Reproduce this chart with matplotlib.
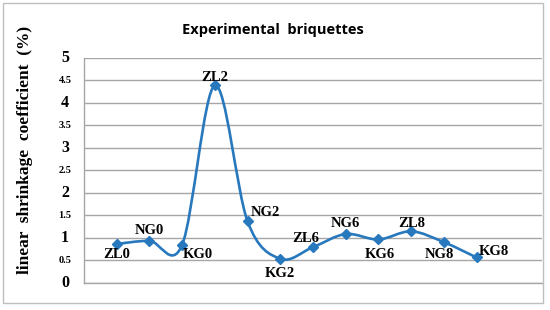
import matplotlib.pyplot as plt
import matplotlib.transforms as mtransforms
import numpy as np
from matplotlib.path import Path
from matplotlib.patches import PathPatch, Rectangle

# Data
samples = ['ZL0', 'NG0', 'KG0', 'ZL2', 'NG2', 'KG2', 'ZL6', 'NG6', 'KG6', 'ZL8', 'NG8', 'KG8']
shrinkage = [0.86, 0.93, 0.84, 4.38, 1.36, 0.53, 0.79, 1.08, 0.96, 1.14, 0.90, 0.56]
y_ticks = [0, 0.5, 1, 1.5, 2, 2.5, 3, 3.5, 4, 4.5, 5]
y_tick_labels = ['0', '0.5', '1', '1.5', '2', '2.5', '3', '3.5', '4', '4.5', '5']

# label offsets in pixels (dx, dy)
OFFSETS = [(0, -11), (0, 10), (16, -10), (0, 8), (18, 9), (0, -15),
           (-7, 9), (0, 11), (1, -15), (1, 8), (-4, -12), (17, 6)]

LINE_COLOR = '#2878BD'
GRID_COLOR = '#A6A6A6'
SERIF = 'Liberation Serif'

fig = plt.figure(figsize=(5.5, 3.1), dpi=100)
ax = fig.add_axes([84 / 550, 27.3 / 310, (542 - 84) / 550, (282.7 - 57.5) / 310])

x = np.arange(1, len(samples) + 1)
y = np.array(shrinkage)

# smoothed line like the spreadsheet's "smoothed line" option (cubic bezier through the points)
pts = np.column_stack([x, y])
verts = [tuple(pts[0])]
codes = [Path.MOVETO]
for i in range(len(pts) - 1):
    p0 = pts[i - 1] if i > 0 else pts[i]
    p1 = pts[i]
    p2 = pts[i + 1]
    p3 = pts[i + 2] if i + 2 < len(pts) else pts[i + 1]
    c1 = p1 + (p2 - p0) / 6
    c2 = p2 - (p3 - p1) / 6
    verts += [tuple(c1), tuple(c2), tuple(p2)]
    codes += [Path.CURVE4] * 3
ax.add_patch(PathPatch(Path(verts, codes), facecolor='none', edgecolor=LINE_COLOR,
                       linewidth=1.9, zorder=3))
ax.plot(x, y, linestyle='none', marker='D', markersize=5.5, color=LINE_COLOR, zorder=4)

for i, name in enumerate(samples):
    ax.annotate(name, (x[i], y[i]), xytext=OFFSETS[i], textcoords='offset pixels',
                ha='center', va='center', fontsize=10.5, fontweight='bold',
                family=SERIF, color='black', zorder=5)

ax.set_xlim(0, 14)
ax.set_ylim(0, 5)
ax.set_xticks([])
ax.set_yticks(y_ticks)
ax.set_yticklabels([])
ax.tick_params(axis='y', length=0)
ax.grid(axis='y', color=GRID_COLOR, linewidth=1)
ax.set_axisbelow(True)
for s in ['top', 'right']:
    ax.spines[s].set_visible(False)
for s in ['left', 'bottom']:
    ax.spines[s].set_color(GRID_COLOR)
    ax.spines[s].set_linewidth(1)

# tick labels: whole numbers big, halves small, centred 19 px left of the axis
tick_tr = mtransforms.offset_copy(ax.get_yaxis_transform(), fig=fig, x=-19, y=0, units='dots')
for v, lab in zip(y_ticks, y_tick_labels):
    big = float(v).is_integer()
    ax.text(0, v, lab, transform=tick_tr, ha='center', va='center',
            fontsize=11.5 if big else 7.5, fontweight='bold', family=SERIF)

fig.text(25 / 550, 1 - 150 / 310, 'linear  shrinkage  coefficient  (%)', rotation=90,
         ha='center', va='center', fontsize=12.5, fontweight='bold', family=SERIF)
fig.text(273 / 550, 1 - 30 / 310, 'Experimental  briquettes', ha='center', va='center',
         fontsize=10.5, fontweight='bold', family='Open Sans')

# outer chart frame
fig.patches.append(Rectangle((3 / 550, 1 - 303 / 310), 540 / 550, 300 / 310,
                             transform=fig.transFigure, fill=False,
                             edgecolor='#BFBFBF', linewidth=1))

fig.savefig('out.png', dpi=100)
